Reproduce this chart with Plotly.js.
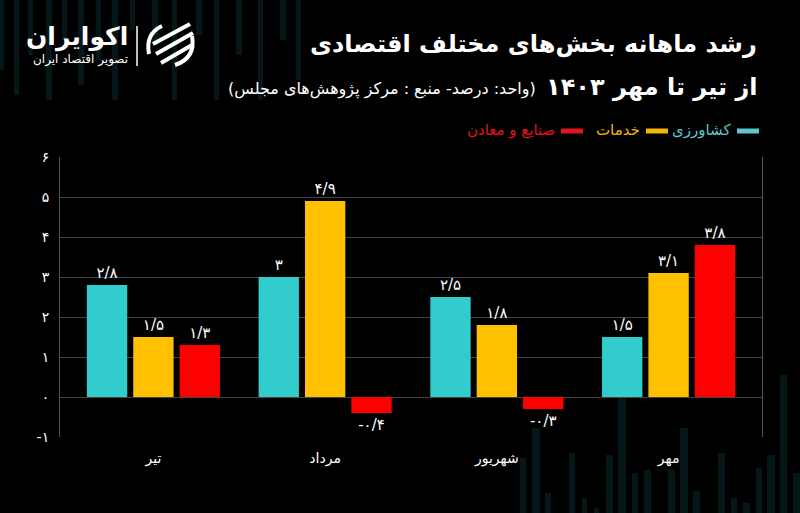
<!DOCTYPE html>
<html>
<head>
<meta charset="utf-8">
<script src="https://cdn.plot.ly/plotly-3.0.1.min.js"></script>
<style>
html,body{margin:0;padding:0;background:#000;}
#chart{width:800px;height:513px;}
</style>
</head>
<body>
<div id="chart"></div>
<script>
// ---- data ----
const months = ['تیر', 'مرداد', 'شهریور', 'مهر'];
const seriesNames = ['کشاورزی', 'خدمات', 'صنایع و معادن'];
const agriculture = [2.8, 3, 2.5, 1.5];
const services = [1.5, 4.9, 1.8, 3.1];
const industry = [1.3, -0.4, -0.3, 3.8];
const yTicks = [-1, 0, 1, 2, 3, 4, 5, 6];

const titleLine1 = 'رشد ماهانه بخش‌های مختلف اقتصادی';
const titleLine2 = 'از تیر تا مهر ۱۴۰۳';
const subtitle = '(واحد: درصد- منبع : مرکز پژوهش‌های مجلس)';
const brand = 'اکوایران';
const brandSub = 'تصویر اقتصاد ایران';

// ---- styles ----
const barColors = ['#33CCCC', '#FFC000', '#FF0000'];
const legendColors = ['#5CC6D0', '#F2B705', '#E3141A'];
const FONT = 'DejaVu Sans, Noto Sans, sans-serif';

function toFa(v) {
  const d = '۰۱۲۳۴۵۶۷۸۹';
  return String(v).replace(/[0-9]/g, c => d[+c]).replace('.', '/');
}
const RLM = '\u200F';

// plot area in pixels
const L = 60, R = 762, T = 157, B = 437;
const X = px => (px - L) / (R - L);
const Y = py => (B - py) / (B - T);

const series = [agriculture, services, industry];
const traces = series.map((vals, i) => ({
  type: 'bar',
  name: seriesNames[i],
  x: months,
  y: vals,
  text: vals.map(toFa),
  textposition: 'outside',
  textfont: {color: '#ffffff', size: 15, family: FONT},
  marker: {color: barColors[i]},
  cliponaxis: false,
  hoverinfo: 'skip'
}));

// decorative background bars [x, width, top, bottom]
const deco = [
  [0,4,0,70],[14,5,0,95],[28,5,0,55],[46,6,0,100],[62,5,0,40],[78,6,0,85],
  [96,5,0,60],[112,6,0,100],[130,5,0,30],[152,6,0,45],[172,5,0,100],[196,6,0,35],
  [214,5,0,100],[236,6,0,55],[258,5,0,100],[280,6,0,40],[296,5,0,80],
  [520,6,458,513],[532,8,428,513],[545,6,493,513],[569,6,453,513],[582,5,498,513],
  [594,5,508,513],[606,7,455,513],[618,8,398,513],[632,6,473,513],[644,7,470,513],
  [668,7,470,513],[680,8,428,513],[693,7,491,513],[718,7,453,513],[731,6,498,513],
  [743,7,503,513],[756,6,468,513],[767,8,455,513],[780,7,375,513],[793,7,473,513]
];
const shapes = deco.map(d => ({
  type: 'rect', xref: 'paper', yref: 'paper', layer: 'below',
  x0: X(d[0]), x1: X(d[0] + d[1]), y0: Y(d[2]), y1: Y(d[3]),
  fillcolor: '#06171a', line: {width: 0}
}));

// legend (RTL: symbol to the right of text)
const legendItems = [
  {line: [737, 759], textRight: 733},
  {line: [646, 668], textRight: 642},
  {line: [561, 583], textRight: 557}
];
const annotations = [];
legendItems.forEach((it, i) => {
  shapes.push({
    type: 'line', xref: 'paper', yref: 'paper',
    x0: X(it.line[0]), x1: X(it.line[1]), y0: Y(131), y1: Y(131),
    line: {color: legendColors[i], width: 5}
  });
  annotations.push({
    xref: 'paper', yref: 'paper', x: X(it.textRight), y: Y(130),
    xanchor: 'right', yanchor: 'middle', showarrow: false,
    text: seriesNames[i], font: {color: legendColors[i], size: 15, family: FONT}
  });
});

// titles
annotations.push({
  xref: 'paper', yref: 'paper', x: X(759), y: Y(44), xanchor: 'right', yanchor: 'middle',
  showarrow: false, text: '<b>' + titleLine1 + '</b>',
  font: {color: '#ffffff', size: 24, family: FONT}
});
annotations.push({
  xref: 'paper', yref: 'paper', x: X(759), y: Y(87), xanchor: 'right', yanchor: 'middle',
  showarrow: false, text: '<b>' + titleLine2 + '</b>',
  font: {color: '#ffffff', size: 24, family: FONT}
});
annotations.push({
  xref: 'paper', yref: 'paper', x: X(538), y: Y(89), xanchor: 'right', yanchor: 'middle',
  showarrow: false, text: RLM + subtitle + RLM,
  font: {color: '#ffffff', size: 16, family: FONT}
});
// brand
annotations.push({
  xref: 'paper', yref: 'paper', x: X(130), y: Y(37), xanchor: 'right', yanchor: 'middle',
  showarrow: false, text: '<b>' + brand + '</b>',
  font: {color: '#ffffff', size: 25, family: FONT}
});
annotations.push({
  xref: 'paper', yref: 'paper', x: X(130), y: Y(60), xanchor: 'right', yanchor: 'middle',
  showarrow: false, text: brandSub,
  font: {color: '#ffffff', size: 12, family: FONT}
});
// separator
shapes.push({type: 'line', xref: 'paper', yref: 'paper',
  x0: X(137), x1: X(137), y0: Y(26), y1: Y(66), line: {color: '#ffffff', width: 1.5}});
// logo icon: partial circle + swooshes
function P(x, y) { return X(x) + ',' + Y(y); }
shapes.push({type: 'path', xref: 'paper', yref: 'paper',
  path: 'M' + P(162, 26) + ' Q' + P(145, 34) + ' ' + P(149, 54),
  line: {color: '#ffffff', width: 4}});
shapes.push({type: 'path', xref: 'paper', yref: 'paper',
  path: 'M' + P(192, 36) + ' Q' + P(196, 58) + ' ' + P(175, 65),
  line: {color: '#ffffff', width: 4}});
[[153, 44, 190, 24], [156, 54, 193, 33], [161, 63, 192, 45]].forEach(s => {
  shapes.push({type: 'line', xref: 'paper', yref: 'paper',
    x0: X(s[0]), y0: Y(s[1]), x1: X(s[2]), y1: Y(s[3]),
    line: {color: '#ffffff', width: 4}});
});

const layout = {
  width: 800, height: 513,
  paper_bgcolor: '#000000', plot_bgcolor: 'rgba(0,0,0,0)',
  margin: {l: L, r: 800 - R, t: T, b: 513 - B, pad: 0},
  showlegend: false,
  barmode: 'group', bargap: 0.19, bargroupgap: 0.13,
  font: {family: FONT, color: '#ffffff'},
  xaxis: {
    type: 'category', range: [-0.544, 3.544],
    showgrid: false, zeroline: false, showline: false,
    ticks: '', ticklabelstandoff: 11,
    tickfont: {color: '#ffffff', size: 14, family: FONT},
    fixedrange: true
  },
  yaxis: {
    range: [-1, 6], tickvals: yTicks, ticktext: yTicks.map(toFa),
    showgrid: true, gridcolor: '#444444', gridwidth: 1,
    zeroline: true, zerolinecolor: '#444444', zerolinewidth: 1,
    showline: true, linecolor: '#555555', linewidth: 1, mirror: true,
    ticks: '', ticklabelstandoff: 7,
    tickfont: {color: '#ffffff', size: 14, family: FONT},
    fixedrange: true
  },
  shapes: shapes,
  annotations: annotations
};

Plotly.newPlot('chart', traces, layout, {displayModeBar: false, staticPlot: true});
</script>
</body>
</html>
